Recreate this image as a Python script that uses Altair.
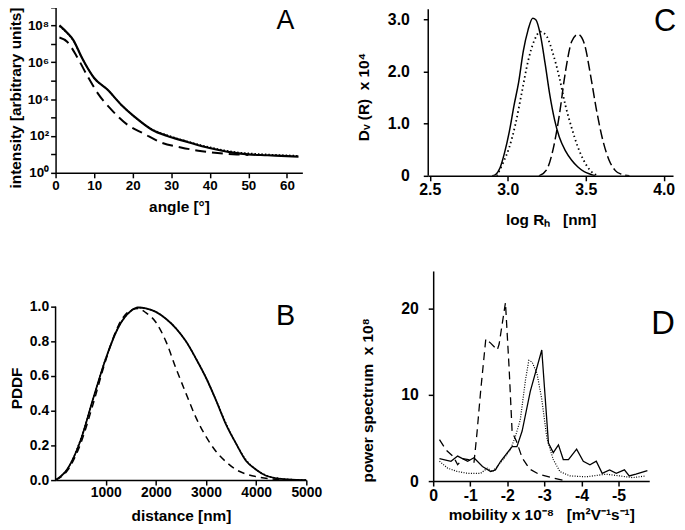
import altair as alt
import pandas as pd

FONT = "Liberation Sans"
NB = "\u00a0"

# ---------------- Panel A : intensity vs angle ----------------
a_angle_solid = [1, 3, 4.6, 6.7, 8, 10, 13.5, 17, 20.5, 25, 29, 33, 38, 42, 46, 50, 55, 60, 63]
a_int_solid = [1.0e8, 4.0e7, 1.6e7, 2.0e6, 6.3e5, 1.4e5, 3.2e4, 5.0e3, 1.1e3, 2.2e2, 1.0e2,
               56, 28, 18, 12.6, 10, 9, 8, 7.6]
a_angle_dotted = [1, 3, 4.6, 6.7, 8, 10, 13.5, 17, 20.5, 25, 29, 33, 38, 42, 46, 50, 55, 60, 63]
a_int_dotted = [9.0e7, 3.8e7, 1.5e7, 2.0e6, 6.3e5, 1.4e5, 3.2e4, 5.0e3, 1.1e3, 2.3e2, 1.1e2,
                60, 31, 20, 14, 11.5, 10, 9, 8.5]
a_angle_dashed = [1, 3, 5.8, 8.4, 11, 14.4, 18.7, 23, 27.3, 32.5, 37, 42, 47, 50]
a_int_dashed = [2.2e7, 1.3e7, 1.6e6, 1.6e5, 2.0e4, 2.8e3, 4.0e2, 1.3e2, 45, 24, 16, 12, 10, 9.3]
a_xticks = [0, 10, 20, 30, 40, 50, 60]
a_yticks = [1, 1e1, 1e2, 1e3, 1e4, 1e5, 1e6, 1e7, 1e8, 1e9]

# ---------------- Panel B : PDDF vs distance ----------------
b_dist_solid = [0, 250, 500, 750, 1000, 1250, 1500, 1650, 1800, 2000, 2200, 2400, 2600, 2800,
                3000, 3200, 3400, 3600, 3800, 4000, 4200, 4500, 4800, 5000]
b_pddf_solid = [0, 0.07, 0.23, 0.47, 0.70, 0.88, 0.975, 0.995, 0.99, 0.97, 0.93, 0.875, 0.80,
                0.70, 0.59, 0.46, 0.32, 0.21, 0.11, 0.06, 0.025, 0.007, 0.001, 0]
b_dist_dotted = [0, 250, 500, 750, 1000, 1250, 1500, 1650, 1800, 2000, 2200, 2400, 2600, 2800,
                 3000, 3200, 3400, 3600, 3800, 4000, 4200, 4500, 4800, 5000]
b_pddf_dotted = [0, 0.07, 0.235, 0.47, 0.70, 0.88, 0.975, 0.995, 0.99, 0.97, 0.93, 0.875, 0.80,
                 0.70, 0.59, 0.46, 0.325, 0.21, 0.115, 0.06, 0.027, 0.008, 0.002, 0]
b_dist_dashed = [0, 250, 500, 750, 1000, 1250, 1500, 1650, 1800, 2000, 2200, 2400, 2600, 2800,
                 3000, 3200, 3400, 3600, 3800, 4000, 4300, 4600]
b_pddf_dashed = [0, 0.06, 0.21, 0.44, 0.69, 0.89, 0.98, 0.99, 0.965, 0.91, 0.80, 0.645, 0.50,
                 0.36, 0.25, 0.165, 0.105, 0.06, 0.035, 0.02, 0.007, 0]
b_xticks = [1000, 2000, 3000, 4000, 5000]
b_yticks = [0, 0.2, 0.4, 0.6, 0.8, 1.0]
b_axis_span = [0, 1.0]

# ---------------- Panel C : Dv(R) vs log RH ----------------
c_logr_solid = [2.90, 2.92, 2.95, 2.98, 3.01, 3.04, 3.07, 3.10, 3.13, 3.16, 3.18, 3.21, 3.24,
                3.27, 3.30, 3.33, 3.37, 3.41, 3.45, 3.49, 3.53, 3.56]
c_dv_solid = [0, 0.02, 0.15, 0.45, 0.85, 1.35, 1.8, 2.4, 2.8, 3.03, 3.0, 2.7, 2.15, 1.55, 1.08,
              0.75, 0.48, 0.30, 0.17, 0.08, 0.03, 0]
c_logr_dotted = [2.93, 2.97, 3.01, 3.05, 3.09, 3.13, 3.17, 3.21, 3.25, 3.29, 3.33, 3.37, 3.41,
                 3.45, 3.49, 3.53, 3.58]
c_dv_dotted = [0, 0.25, 0.55, 1.0, 1.6, 2.2, 2.6, 2.77, 2.68, 2.35, 1.9, 1.35, 0.92, 0.55,
               0.28, 0.10, 0]
c_logr_dashed = [3.20, 3.25, 3.29, 3.33, 3.37, 3.41, 3.45, 3.49, 3.53, 3.57, 3.61, 3.65, 3.69,
                 3.73, 3.78]
c_dv_dashed = [0, 0.12, 0.5, 1.15, 2.0, 2.58, 2.72, 2.55, 1.95, 1.25, 0.68, 0.30, 0.10, 0.03, 0]
c_xticks = [2.5, 3.0, 3.5, 4.0]
c_yticks = [0, 1, 2, 3]
c_axis_span = [0, 3.2]

# ---------------- Panel D : power spectrum vs mobility ----------------
d_mob_solid = [-0.17, -0.48, -0.66, -0.93, -1.1, -1.33, -1.55, -1.68, -1.82, -2.13, -2.26, -2.40,
               -2.62, -2.93, -3.11, -3.24, -3.38, -3.51, -3.65, -3.87, -4.05, -4.23, -4.40,
               -4.56, -4.76, -4.94, -5.16, -5.29, -5.47, -5.78]
d_pow_solid = [2.6, 2.3, 2.9, 2.3, 2.7, 1.7, 1.1, 1.3, 2.3, 4.0, 4.0, 5.8, 10.4, 15.2, 4.4, 3.3,
               4.2, 2.5, 2.5, 3.7, 2.3, 1.9, 2.3, 0.9, 1.3, 0.9, 1.3, 0.6, 0.8, 1.2]
d_mob_dotted = [-0.17, -0.39, -0.66, -0.93, -1.28, -1.46, -1.60, -1.73, -1.91, -2.09, -2.22,
                -2.35, -2.49, -2.58, -2.67, -2.80, -2.93, -3.07, -3.24, -3.42, -3.69, -4.13,
                -4.67, -5.03, -5.38, -5.74]
d_pow_dotted = [2.3, 1.5, 1.1, 0.9, 0.9, 1.5, 1.1, 1.7, 2.6, 3.7, 5.2, 7.1, 11.7, 14.0, 13.8,
                12.5, 9.5, 4.9, 2.5, 1.1, 0.6, 0.5, 0.8, 0.6, 0.4, 0.6]
d_mob_dashed = [-0.17, -0.35, -0.55, -0.66, -0.80, -0.95, -1.10, -1.18, -1.28, -1.42, -1.55,
                -1.73, -1.78, -1.95, -2.05, -2.13, -2.25, -2.40, -2.60, -2.85, -3.20, -3.50,
                -3.60]
d_pow_dashed = [4.8, 3.6, 2.8, 1.9, 2.6, 2.5, 2.1, 5.5, 10.4, 16.5, 16.0, 15.2, 15.9, 20.7, 13.0,
                5.7, 4.6, 2.7, 1.4, 0.8, 0.4, 0.1, 0.0]
d_xticks = [0, -1, -2, -3, -4, -5]
d_yticks = [0, 10, 20]


def line_layers(x_enc, y_enc, specs, interp):
    layers = []
    for xs, ys, dash, width in specs:
        kw = dict(color="black", strokeWidth=width, interpolate=interp, clip=True)
        if dash:
            kw["strokeDash"] = dash
        layers.append(
            alt.Chart(pd.DataFrame({"x": xs, "y": ys})).mark_line(**kw).encode(x=x_enc, y=y_enc)
        )
    return layers


def letter(txt, x, y, size, baseline="alphabetic"):
    return alt.Chart(pd.DataFrame({"t": [txt]})).mark_text(
        font=FONT, fontSize=size, align="center", baseline=baseline, color="black"
    ).encode(x=alt.value(x), y=alt.value(y), text="t:N")


def axis_line(span, y_field_enc):
    return alt.Chart(pd.DataFrame({"y": [span[0]], "y2": [span[1]]})).mark_rule(
        color="black", strokeWidth=1.5
    ).encode(x=alt.value(0), y=y_field_enc, y2="y2:Q")


# ---- A ----
ax = alt.X("x:Q", scale=alt.Scale(domain=[0, 64], nice=False, zero=False),
           axis=alt.Axis(values=a_xticks, format="d", title="angle [°]", labelFontSize=13.5,
                         labelPadding=1, titlePadding=7))
ay = alt.Y("y:Q", scale=alt.Scale(type="log", domain=[1, 1.23e9], nice=False),
           axis=alt.Axis(values=a_yticks, title="intensity [arbitrary units]",
                         labelFontSize={"condition": {"test": "datum.value > 5e8", "value": 0},
                                        "value": 13.5},
                         labelExpr="datum.value == 1 ? '10⁰' : datum.value == 100 ? '10²' : "
                                   "datum.value == 10000 ? '10⁴' : datum.value == 1000000 ? '10⁶' : "
                                   "datum.value == 100000000 ? '10⁸' : ''",
                         labelPadding=2, titlePadding=4, titleY=93))
chartA = alt.layer(
    *line_layers(ax, ay, [
        (a_angle_dotted, a_int_dotted, [1.5, 2], 1.5),
        (a_angle_dashed, a_int_dashed, [11, 6], 2),
        (a_angle_solid, a_int_solid, None, 2.2),
    ], "monotone"),
    letter("A", 232, 3, 27, "top"),
).properties(width=249, height=169)

# ---- B ----
bx = alt.X("x:Q", scale=alt.Scale(domain=[0, 5000], nice=False),
           axis=alt.Axis(values=b_xticks, format="d", title="distance [nm]",
                         labelPadding=1, titlePadding=9))
b_yscale = alt.Scale(domain=[0, 1.2057], nice=False)
b_yaxis = alt.Axis(values=b_yticks, format=".1f", title="PDDF", domain=False,
                   labelPadding=2, titlePadding=5, titleY=118)
by = alt.Y("y:Q", scale=b_yscale, axis=b_yaxis)
chartB = alt.layer(
    *line_layers(bx, by, [
        (b_dist_dotted, b_pddf_dotted, [1.5, 2], 1.5),
        (b_dist_dashed, b_pddf_dashed, [7, 5], 1.5),
        (b_dist_solid, b_pddf_solid, None, 1.8),
    ], "monotone"),
    axis_line(b_axis_span, alt.Y("y:Q", scale=b_yscale, axis=b_yaxis)),
    letter("B", 232, 55, 29),
).properties(width=253, height=211)

# ---- C ----
cx = alt.X("x:Q", scale=alt.Scale(domain=[2.49, 4.06], nice=False, zero=False),
           axis=alt.Axis(values=c_xticks, format=".1f", title=f"log R\u2095{NB}{NB}{NB}[nm]",
                         labelFontSize=16, labelPadding=1, titlePadding=15))
c_yscale = alt.Scale(domain=[0, 3.276], nice=False)
c_yaxis = alt.Axis(values=c_yticks, title=f"D\u1d65{NB}(R){NB}{NB}x{NB}10⁴", domain=False,
                   labelFontSize=16,
                   labelExpr="datum.value == 0 ? '0' : format(datum.value, '.1f')",
                   labelPadding=14, titlePadding=16, titleY=92)
cy = alt.Y("y:Q", scale=c_yscale, axis=c_yaxis)
chartC = alt.layer(
    *line_layers(cx, cy, [
        (c_logr_dotted, c_dv_dotted, [1.5, 3], 1.8),
        (c_logr_dashed, c_dv_dashed, [10, 4], 1.5),
        (c_logr_solid, c_dv_solid, None, 1.5),
    ], "monotone"),
    axis_line(c_axis_span, alt.Y("y:Q", scale=c_yscale, axis=c_yaxis)),
    letter("C", 239, 2, 31, "top"),
).properties(width=247, height=172)

# ---- D ----
dx = alt.X("x:Q", scale=alt.Scale(domain=[0, -5.83], nice=False, zero=False),
           axis=alt.Axis(values=d_xticks,
                         title=f"mobility{NB}x{NB}10⁻⁸{NB}{NB}{NB}[m²V⁻¹s⁻¹]",
                         labelFontSize=16,
                         labelExpr="datum.value == 0 ? '0' : '-' + abs(datum.value)",
                         labelPadding=2, titlePadding=4))
dy = alt.Y("y:Q", scale=alt.Scale(domain=[0, 24.37], nice=False),
           axis=alt.Axis(values=d_yticks, format="d", title=f"power spectrum{NB}{NB}x{NB}10⁸",
                         labelFontSize=16, labelPadding=10, titlePadding=25, titleY=130))
chartD = alt.layer(
    *line_layers(dx, dy, [
        (d_mob_dotted, d_pow_dotted, [1, 1.5], 1.2),
        (d_mob_dashed, d_pow_dashed, [8, 5], 1.3),
        (d_mob_solid, d_pow_solid, None, 1.3),
    ], "linear"),
    letter("D", 232, 64, 33),
).properties(width=218, height=212)

top = alt.hconcat(chartA, chartC, spacing=54)
bottom = alt.hconcat(chartB, chartD, spacing=39)

chart = alt.vconcat(top, bottom, spacing=43).properties(
    padding={"top": -5, "left": 0, "right": 0, "bottom": 0}
).configure_axis(
    labelFont=FONT, titleFont=FONT, labelFontSize=14, titleFontSize=15.5,
    labelFontWeight="bold", titleFontWeight="bold", labelColor="black", titleColor="black",
    domainColor="black", tickColor="black", domainWidth=1.5, tickWidth=1.5, tickSize=5,
    grid=False, labelFlush=False,
).configure_view(stroke=None)

chart.save("out.html", embed_options={"renderer": "svg", "actions": False})
